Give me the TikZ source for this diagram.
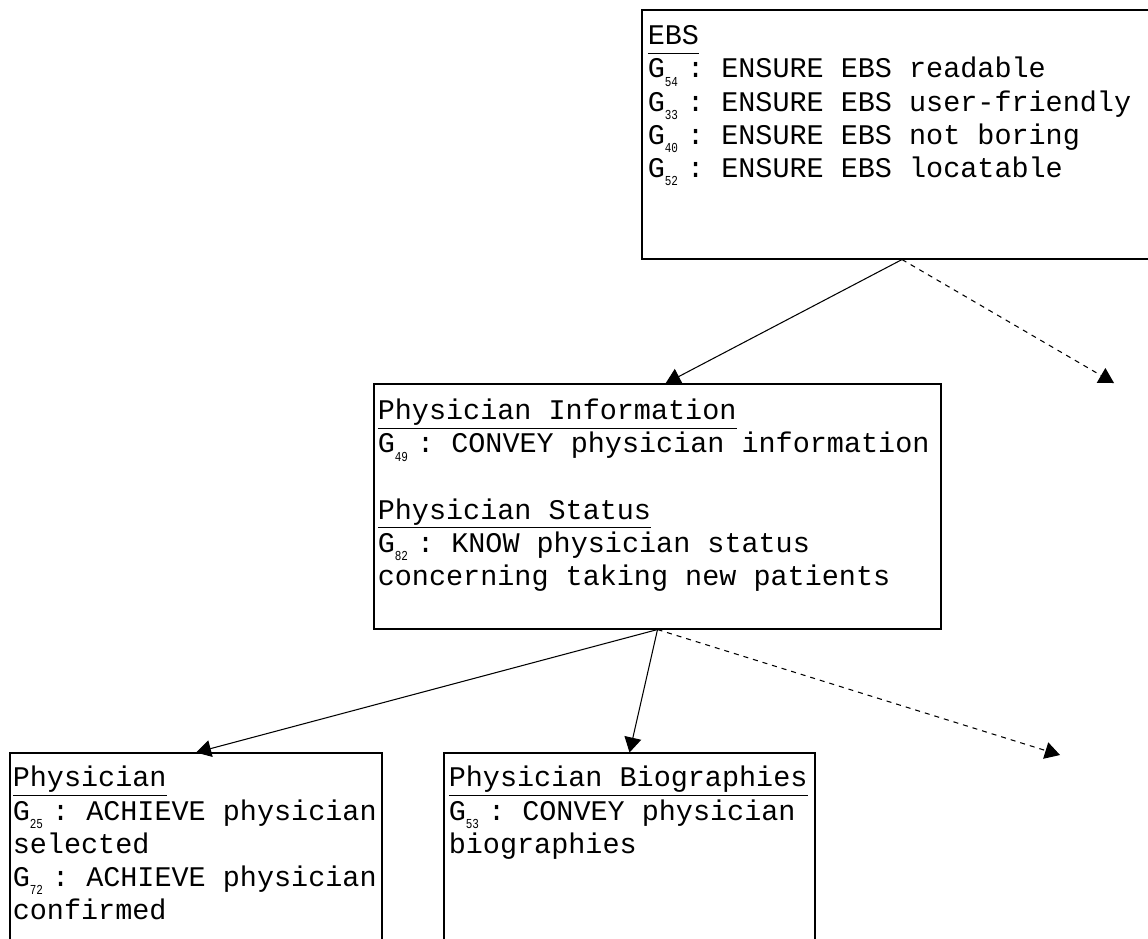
\documentclass[tikz,border=0pt]{standalone}
\usepackage{fontspec}
\setmonofont{Liberation Mono}
\usetikzlibrary{arrows.meta,fit,calc}
\newcommand{\gl}[1]{G\makebox[0.78em][l]{\raisebox{-4.8pt}{\scalebox{0.8}[1]{\fontsize{7.8}{7.8}\selectfont #1}}}:}
\newcommand{\hd}[1]{\underline{#1\vphantom{y}}}

\begin{document}
\begin{tikzpicture}[x=0.02cm,y=-0.02cm]
  \tikzstyle{every node}+=[inner sep=0pt]
  \tikzstyle{box}=[draw,line width=0.6pt]
  \tikzstyle{txt}=[anchor=north west,align=left,font=\ttfamily\fontsize{16.2}{18.8}\selectfont]
  \tikzstyle{link}=[line width=0.6pt,-{Triangle[length=0.3cm,width=0.34cm]}]
  \tikzstyle{more}=[link,dash pattern=on 0.1cm off 0.1cm]
  \useasboundingbox (0,0) rectangle (1148,938);
  \node [box,fit={(642,10) (1160,259)}] (ebs) {};
  \node [box,fit={(374,384) (941,629)}] (info) {};
  \node [box,fit={(10,753) (382,970)}] (phys) {};
  \node [box,fit={(444,753) (815,970)}] (bio) {};
  \node [txt] (ebs-text) at ([shift={(6,12)}]ebs.north west)
    {\strut\hd{EBS}\\
     \gl{54} ENSURE EBS readable\\
     \gl{33} ENSURE EBS user-friendly\\
     \gl{40} ENSURE EBS not boring\\
     \gl{52} ENSURE EBS locatable};
  \node [txt] (info-text) at ([shift={(4,13)}]info.north west)
    {\strut\hd{Physician Information}\\
     \gl{49} CONVEY physician information\\[18.8pt]
     \hd{Physician Status}\\
     \gl{82} KNOW physician status\\
     concerning taking new patients};
  \node [txt] (phys-text) at ([shift={(3,11)}]phys.north west)
    {\strut\hd{Physician}\\
     \gl{25} ACHIEVE physician\\
     selected\\
     \gl{72} ACHIEVE physician\\
     confirmed};
  \node [txt] (bio-text) at ([shift={(5,11)}]bio.north west)
    {\strut\hd{Physician Biographies}\\
     \gl{53} CONVEY physician\\
     biographies};
  \coordinate (ebs-more) at (1114,383);
  \coordinate (info-more) at (1060,755);
  \draw [link] ($(ebs.south)+(1,0)$) -- ($(info.north)+(8,0)$);
  \draw [more] ($(ebs.south)+(1,0)$) -- (ebs-more);
  \draw [link] (info.south) -- (phys.north);
  \draw [link] (info.south) -- (bio.north);
  \draw [more] (info.south) -- (info-more);
\end{tikzpicture}
\end{document}
